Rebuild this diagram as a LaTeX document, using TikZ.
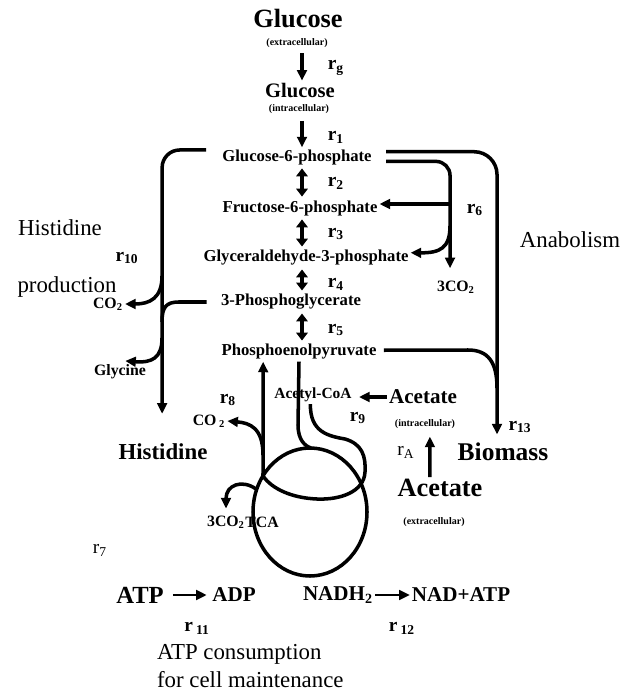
\documentclass[tikz,border=0pt]{standalone}
\usepackage{fontspec}
\setmainfont{Liberation Serif}
\usetikzlibrary{arrows.meta,positioning,calc}
\newcommand{\rsub}[1]{r\textsubscript{#1}}
\tikzset{met/.style={font=\fontsize{9.5}{11}\selectfont\bfseries,inner sep=1pt}, sml/.style={font=\fontsize{5.7}{7}\selectfont\bfseries,inner sep=1pt}, rlab/.style={font=\fontsize{11}{13}\selectfont\bfseries,inner sep=1pt}, note/.style={font=\fontsize{13}{15.5}\selectfont,inner sep=1pt,align=left}, thk/.style={line width=2pt,draw=black}, flow/.style={thk,-{Triangle[length=6pt,width=5.5pt]}}, twoway/.style={line width=2pt,{Triangle[length=4.5pt,width=6.5pt]}-{Triangle[length=4.5pt,width=6.5pt]}}}

\begin{document}
\begin{tikzpicture}[x=0.02cm,y=-0.02cm]
\useasboundingbox (0,0) rectangle (635,693);
\coordinate (ax) at (302,0);
\node[met,font=\fontsize{15}{17}\selectfont\bfseries] (gext) at (298,19) {Glucose};
\node[sml] (gextl) at (297,43) {(extracellular)};
\node[met,font=\fontsize{11.7}{13}\selectfont\bfseries] (gint) at (300,90) {Glucose};
\node[sml] (gintl) at (299,109) {(intracellular)};
\node[met] (gsp) at (297,157) {Glucose-6-phosphate};
\node[met] (fsp) at (300,208) {Fructose-6-phosphate};
\node[met] (gap) at (306,258) {Glyceraldehyde-3-phosphate};
\node[met] (pga) at (291,302) {3-Phosphoglycerate};
\node[met] (pep) at (299,352) {Phosphoenolpyruvate};
\node[rlab] (rg) at (336,68) {\rsub{g}};
\node[rlab] (r1) at (336,137) {\rsub{1}};
\foreach \n/\y in {2/183,3/234,4/284,5/330} \node[rlab] (r\n) at (336,\y) {\rsub{\n}};
\draw[flow,shorten <=2pt] (ax |- gextl.south) -- (ax |- gint.north);
\draw[flow,shorten <=3pt] (ax |- gintl.south) -- (ax |- gsp.north);
\foreach \a/\b in {gsp/fsp,fsp/gap,gap/pga,pga/pep} \draw[twoway,shorten >=1pt,shorten <=1pt] (ax |- \a.south) -- (ax |- \b.north);
\node[note] (hisn) at (60,228) {Histidine};
\node[note] (prod) at (67,287) {production};
\node[rlab] (r10) at (127,258) {\rsub{10}};
\node[met,font=\fontsize{9}{11}\selectfont\bfseries] (co2a) at (108,304) {CO\textsubscript{2}};
\node[met,font=\fontsize{9}{11}\selectfont\bfseries] (gly) at (120,372) {Glycine};
\node[met,font=\fontsize{13}{15}\selectfont\bfseries] (his) at (163,452) {Histidine};
\node[rlab] (r6) at (475,210) {\rsub{6}};
\node[met,font=\fontsize{9}{11}\selectfont\bfseries] (co2c) at (456,287) {3CO\textsubscript{2}};
\node[note] (anab) at (570,240) {Anabolism};
\node[met,font=\fontsize{8.8}{10}\selectfont\bfseries] (acoa) at (313,395) {Acetyl-CoA};
\node[met,font=\fontsize{12}{14}\selectfont\bfseries] (aci) at (423,397) {Acetate};
\node[sml] (acil) at (425,424) {(intracellular)};
\node[rlab] (r9) at (358,418) {\rsub{9}};
\node[rlab] (r13) at (520,427) {\rsub{13}};
\node[rlab,font=\fontsize{11}{13}\selectfont] (ra) at (406,452) {\rsub{A}};
\node[met,font=\fontsize{14.5}{17}\selectfont\bfseries] (bio) at (503,452) {Biomass};
\node[met,font=\fontsize{15}{17}\selectfont\bfseries] (ace) at (440,488) {Acetate};
\node[sml] (acel) at (434,522) {(extracellular)};
\node[rlab] (r8) at (228,400) {\rsub{8}};
\node[met,font=\fontsize{9}{11}\selectfont\bfseries] (co2b) at (209,421) {CO\,\textsubscript{2}};
\node[met,font=\fontsize{9}{11}\selectfont\bfseries] (co2t) at (226,522) {3CO\textsubscript{2}};
\node[met,font=\fontsize{9}{11}\selectfont\bfseries] (tca) at (262,522) {TCA};
\node[rlab,font=\fontsize{11}{13}\selectfont] (r7) at (100,550) {\rsub{7}};
\node[met,font=\fontsize{14}{16}\selectfont\bfseries] (atp) at (140,595) {ATP};
\node[met,font=\fontsize{12}{14}\selectfont\bfseries] (adp) at (234,595) {ADP};
\node[met,font=\fontsize{12}{14}\selectfont\bfseries] (nadh) at (338,595) {NADH\textsubscript{2}};
\node[met,font=\fontsize{12}{14}\selectfont\bfseries] (nad) at (461,595) {NAD+ATP};
\node[rlab] (r11) at (197,628) {r\,\textsubscript{11}};
\node[rlab] (r12) at (402,628) {r\,\textsubscript{12}};
\node[note,anchor=west] (maint) at (155,666) {ATP consumption\\for cell maintenance};
\coordinate (k1) at (162,276);
\coordinate (k2) at (162,322);
\coordinate (k3) at (162,338);
\coordinate (k4) at (450,204);
\coordinate (k5) at (450,226);
\coordinate (k7) at (497,388);
\coordinate (k8) at (263,476);
\coordinate (k9) at (263,455);
\coordinate (k10) at (311,448);
\coordinate (k11) at (256,489);
\coordinate (cyc) at (310,512);
\draw[flow,rounded corners=10pt] ([shift={(-8pt,4pt)}]gsp.west) -| ([shift={(-0.5pt,16pt)}]his.north);
\draw[flow] (k1) .. controls (162,298) and (150,304) .. (co2a.east);
\draw[thk] ([xshift=-7pt]pga.west) -- ++(-28,0) .. controls +(-13,0) and +(0,-14) .. (k2);
\draw[flow] (k3) .. controls (162,358) and (152,363) .. ([shift={(3pt,1pt)}]gly.north);
\draw[flow,rounded corners=13pt] ([shift={(7pt,3pt)}]gsp.east) -| ([shift={(-3.4pt,3.7pt)}]bio.north);
\draw[flow,rounded corners=8pt] ([shift={(7pt,-2.5pt)}]gsp.east) -| ([shift={(-3.4pt,6pt)}]co2c.north);
\draw[flow] (k4) -- (k4 -| fsp.east);
\draw[flow] (k5) .. controls (450,248) and (440,253) .. ([yshift=3pt]gap.east);
\draw[thk] ([shift={(3pt,1pt)}]pep.east) -- (468,350) .. controls (488,350) and (497,362) .. (k7);
\draw[thk] (cyc) ellipse [x radius=57,y radius=64];
\draw[flow] (k8) -- ([xshift=-20.4pt]pep.south);
\draw[flow] (k9) .. controls (263,428) and (250,423) .. (co2b.east);
\draw[thk] (pep.south) -- (298,425) .. controls (298,440) and (305,446) .. (k10);
\draw[thk] ([xshift=-1.5pt]acoa.south) .. controls (310,432) and (328,436) .. (345,439) .. controls (362,444) and (366,456) .. (365,472) .. controls (364,492) and (340,500) .. (317,499) .. controls (292,498) and (272,489) .. (k8);
\draw[flow] (k11) .. controls (242,479) and (226,485) .. ([yshift=3pt]co2t.north);
\draw[flow,shorten >=3pt] (aci.west) -- (aci.west -| acoa.east);
\draw[flow] ([xshift=-5.7pt]ace.north) -- ([shift={(2.8pt,-3.4pt)}]acil.south);
\draw[flow,line width=1.6pt,shorten <=4pt,shorten >=2pt] (atp) -- (adp);
\draw[flow,line width=1.4pt] (nadh.east) -- (nadh.east -| nad.west);
\end{tikzpicture}
\end{document}
